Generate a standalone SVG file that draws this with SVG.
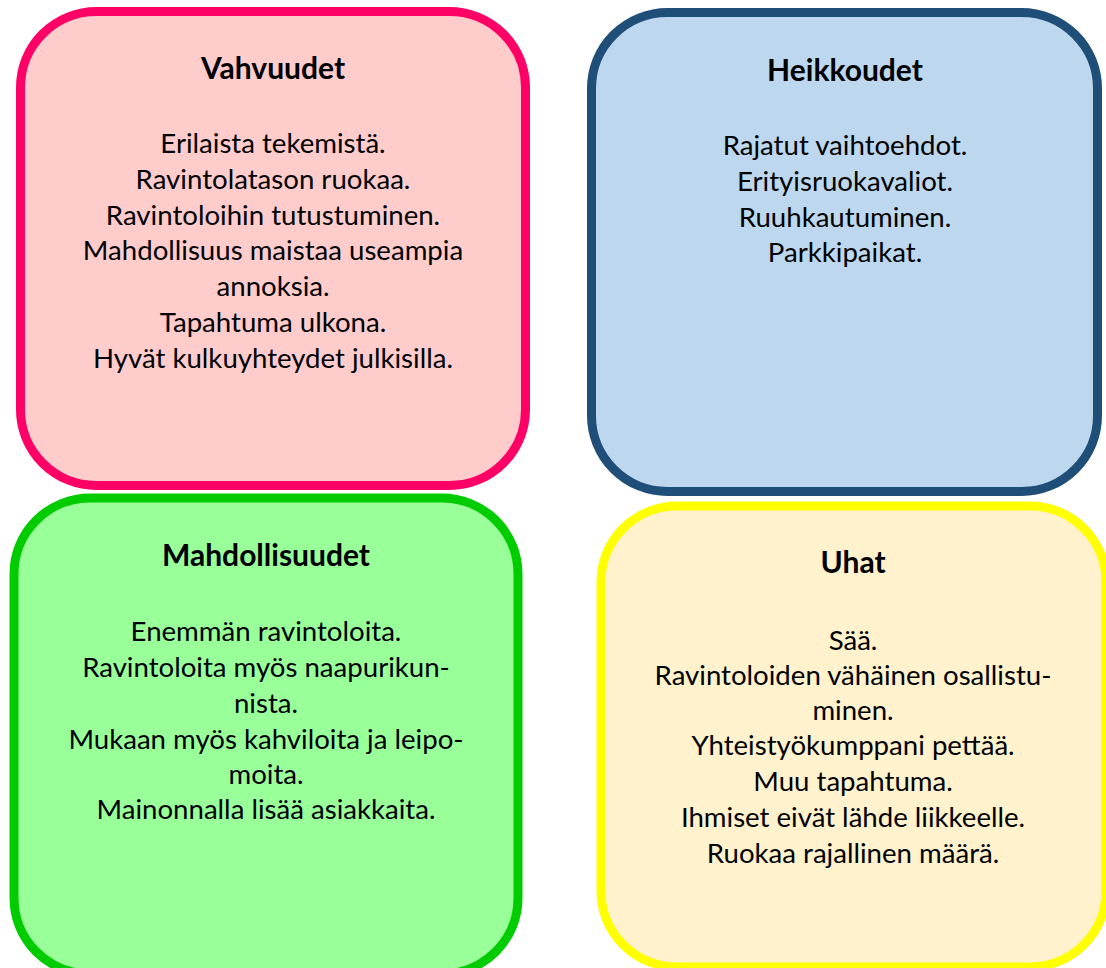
<svg xmlns="http://www.w3.org/2000/svg" width="1106" height="968" viewBox="0 0 1106 968">
<style>
.box{stroke-width:9}
.t{font-family:Lato,"Liberation Sans",sans-serif;font-weight:bold;font-size:30px;fill:#000;text-anchor:middle}
.b{font-family:Lato,"Liberation Sans",sans-serif;font-size:27.6px;fill:#000;text-anchor:middle}
</style>
<rect width="1106" height="968" fill="#fff"/>
<g id="vahvuudet">
<rect class="box" x="20.5" y="11.5" width="505" height="474" rx="76" fill="#FFCCCC" stroke="#FF0066"/>
<text class="t" x="273" y="79">Vahvuudet</text>
<text class="b" x="273" y="153">Erilaista tekemistä.</text>
<text class="b" x="273" y="189">Ravintolatason ruokaa.</text>
<text class="b" x="273" y="225">Ravintoloihin tutustuminen.</text>
<text class="b" x="273" y="260">Mahdollisuus maistaa useampia</text>
<text class="b" x="273" y="296">annoksia.</text>
<text class="b" x="273" y="332">Tapahtuma ulkona.</text>
<text class="b" x="273" y="368">Hyvät kulkuyhteydet julkisilla.</text>
</g>
<g id="heikkoudet">
<rect class="box" x="591.5" y="12.5" width="506" height="479" rx="76" fill="#BDD7EE" stroke="#1F4E79"/>
<text class="t" x="845" y="81">Heikkoudet</text>
<text class="b" x="845" y="155">Rajatut vaihtoehdot.</text>
<text class="b" x="845" y="191">Erityisruokavaliot.</text>
<text class="b" x="845" y="227">Ruuhkautuminen.</text>
<text class="b" x="845" y="262">Parkkipaikat.</text>
</g>
<g id="mahdollisuudet">
<rect class="box" x="14" y="498" width="504" height="476" rx="76" fill="#99FF99" stroke="#00CC00"/>
<text class="t" x="266" y="566">Mahdollisuudet</text>
<text class="b" x="266" y="641">Enemmän ravintoloita.</text>
<text class="b" x="266" y="677">Ravintoloita myös naapurikun-</text>
<text class="b" x="266" y="713">nista.</text>
<text class="b" x="266" y="749">Mukaan myös kahviloita ja leipo-</text>
<text class="b" x="266" y="784">moita.</text>
<text class="b" x="266" y="819">Mainonnalla lisää asiakkaita.</text>
</g>
<g id="uhat">
<rect class="box" x="601" y="506" width="505" height="461" rx="76" fill="#FFF2CC" stroke="#FFFF00"/>
<text class="t" x="853" y="573">Uhat</text>
<text class="b" x="853" y="650">Sää.</text>
<text class="b" x="853" y="685">Ravintoloiden vähäinen osallistu-</text>
<text class="b" x="853" y="720">minen.</text>
<text class="b" x="853" y="755">Yhteistyökumppani pettää.</text>
<text class="b" x="853" y="791">Muu tapahtuma.</text>
<text class="b" x="853" y="827">Ihmiset eivät lähde liikkeelle.</text>
<text class="b" x="853" y="863">Ruokaa rajallinen määrä.</text>
</g>
<g id="connectors"/>
</svg>
